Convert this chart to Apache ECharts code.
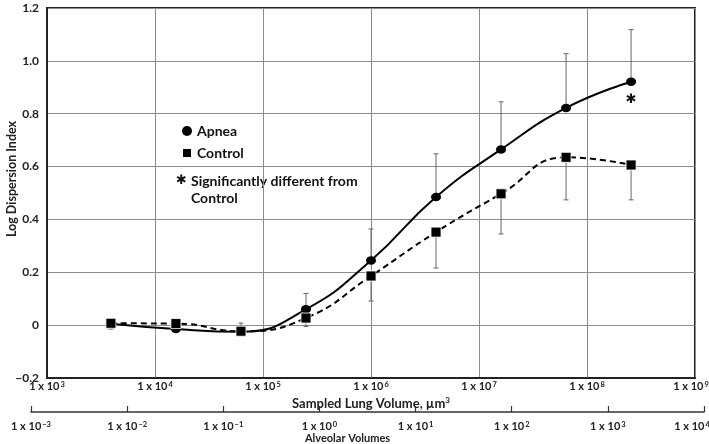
<!DOCTYPE html>
<html><head><meta charset="utf-8">
<script src="https://cdn.jsdelivr.net/npm/echarts@6/dist/echarts.min.js"></script>
<style>html,body{margin:0;padding:0;background:#fff}#c{width:709px;height:444px}</style>
</head><body><div id="c"></div>
<script>
// ---- data ----
const sampledVolumes = [3906, 15625, 62500, 250000, 1000000, 4000000, 16000000, 64000000, 256000000];
const apnea        = [0.005, -0.015, -0.025, 0.06, 0.245, 0.485, 0.665, 0.822, 0.921];
const control      = [0.007, 0.006, -0.023, 0.027, 0.186, 0.352, 0.497, 0.635, 0.606];
const apneaUpper   = [0.015, 0.01, 0.008, 0.12, 0.364, 0.648, 0.845, 1.027, 1.118];
const controlLower = [-0.015, -0.005, -0.03, -0.005, 0.091, 0.216, 0.345, 0.474, 0.474];
const significant  = [false, false, false, false, false, false, false, false, true];
const sampledRange  = [1e3, 1e9];
const alveolarRange = [1e-3, 1e4];
const yRange = [-0.2, 1.2];
const yStep = 0.2;
const seriesNames = ['Apnea', 'Control'];
const noteText = ['Significantly different from', 'Control'];
const yAxisTitle = 'Log Dispersion Index';

const FONT = 'Lato';
function makeRich(endPad) {
  return {
    b: {fontFamily: FONT, fontWeight: 'bold', fontSize: 11, color: '#222'},
    s: {fontFamily: FONT, fontWeight: 'bold', fontSize: 7.5, color: '#222', verticalAlign: 'top', padding: [0, 0, 0, 1]},
    se: {fontFamily: FONT, fontWeight: 'bold', fontSize: 7.5, color: '#222', verticalAlign: 'top', padding: [0, endPad, 0, 1]}
  };
}
function powLabelFor(maxV) {
  return function (v) {
    const e = Math.round(Math.log10(v));
    const tag = Math.abs(Math.log10(v) - Math.log10(maxV)) < 1e-6 ? 'se' : 's';
    return '{b|1 x 10}{' + tag + '|' + (e < 0 ? '\u2212' + (-e) : e) + '}';
  };
}
function errBar() {
  return function (params, api) {
    const x = api.value(0), v = api.value(1), e = api.value(2);
    const p1 = api.coord([x, v]), p2 = api.coord([x, e]);
    const w = 2.5;
    const st = {stroke: '#666', lineWidth: 1};
    return {type: 'group', children: [
      {type: 'line', shape: {x1: p1[0], y1: p1[1], x2: p2[0], y2: p2[1]}, style: st},
      {type: 'line', shape: {x1: p2[0] - w, y1: p2[1], x2: p2[0] + w, y2: p2[1]}, style: st}
    ]};
  };
}
const apneaPts = sampledVolumes.map((x, i) => [x, apnea[i]]);
const controlPts = sampledVolumes.map((x, i) => [x, control[i]]);
const apneaErr = sampledVolumes.map((x, i) => [x, apnea[i], apneaUpper[i]]);
const controlErr = sampledVolumes.map((x, i) => [x, control[i], controlLower[i]]);
const sigMarks = sampledVolumes.map((x, i) => significant[i] ? {coord: [x, apnea[i]]} : null).filter(Boolean);

const chart = echarts.init(document.getElementById('c'), null, {renderer: 'canvas'});
chart.setOption({
  animation: false,
  backgroundColor: '#fff',
  grid: [
    {left: 47, right: 14, top: 8, bottom: 66, show: true, borderColor: '#222', borderWidth: 2, containLabel: false, outerBoundsMode: 'none'},
    {left: 31, right: 5, top: 411, height: 1, show: false, containLabel: false, outerBoundsMode: 'none'}
  ],
  legend: {
    left: 176, top: 119, orient: 'vertical', itemGap: 8, itemWidth: 10, itemHeight: 10,
    textStyle: {fontFamily: FONT, fontWeight: 'bold', fontSize: 14, color: '#111'},
    data: [{name: seriesNames[0], icon: 'circle'}, {name: seriesNames[1], icon: 'rect'}]
  },
  xAxis: [
    {gridIndex: 0, type: 'log', logBase: 10, min: sampledRange[0], max: sampledRange[1],
      axisLine: {show: true, onZero: false, lineStyle: {color: '#222', width: 2}}, axisTick: {show: false},
      splitLine: {show: true, lineStyle: {color: '#8c8c8c', width: 1}},
      axisLabel: {margin: 3, formatter: powLabelFor(sampledRange[1]), rich: makeRich(8)},
      name: 'Sampled Lung Volume, {b2|\u00b5m}{s2|3}', nameLocation: 'middle', nameGap: 14,
      nameTextStyle: {fontFamily: FONT, fontWeight: 'bold', fontSize: 13, color: '#222',
        rich: {b2: {fontFamily: FONT, fontWeight: 'bold', fontSize: 13, color: '#222'},
               s2: {fontFamily: FONT, fontWeight: 'bold', fontSize: 8, color: '#222', verticalAlign: 'top'}}}},
    {gridIndex: 1, type: 'log', logBase: 10, min: alveolarRange[0], max: alveolarRange[1], position: 'bottom',
      axisLine: {show: true, onZero: false, lineStyle: {color: '#333', width: 1.5}},
      axisTick: {show: true, inside: true, length: 6, lineStyle: {color: '#333', width: 1.2}},
      splitLine: {show: false},
      axisLabel: {margin: 9, formatter: powLabelFor(alveolarRange[1]), rich: makeRich(24)},
      name: 'Alveolar Volumes', nameLocation: 'middle', nameGap: 21,
      nameTextStyle: {fontFamily: FONT, fontWeight: 'bold', fontSize: 11, color: '#222', padding: [0, 40, 0, 0]}}
  ],
  yAxis: [
    {gridIndex: 0, type: 'value', min: yRange[0], max: yRange[1], interval: yStep,
      axisLine: {show: true, onZero: false, lineStyle: {color: '#222', width: 2}}, axisTick: {show: false},
      splitLine: {show: true, lineStyle: {color: '#8c8c8c', width: 1}},
      axisLabel: {margin: 8, fontFamily: FONT, fontWeight: 'bold', fontSize: 12, color: '#222',
        formatter: v => Math.abs(v) < 1e-9 ? '0' : (v < 0 ? '\u2212' + (-v).toFixed(1) : v.toFixed(1))}},
    {gridIndex: 1, type: 'value', show: false, min: 0, max: 1}
  ],
  series: [
    {type: 'custom', name: 'apneaErr', xAxisIndex: 0, yAxisIndex: 0, renderItem: errBar(), data: apneaErr, z: 1,
      encode: {x: 0, y: [1, 2]}, silent: true},
    {type: 'custom', name: 'controlErr', xAxisIndex: 0, yAxisIndex: 0, renderItem: errBar(), data: controlErr, z: 1,
      encode: {x: 0, y: [1, 2]}, silent: true},
    {type: 'line', name: seriesNames[0], xAxisIndex: 0, yAxisIndex: 0, data: apneaPts, smooth: 0.5,
      symbol: 'circle', symbolSize: [10, 8.5], z: 3,
      lineStyle: {color: '#000', width: 2}, itemStyle: {color: '#000'},
      markPoint: {symbol: 'circle', symbolSize: 1, itemStyle: {color: 'rgba(0,0,0,0)'},
        label: {show: true, position: 'inside', offset: [0, 18], formatter: '\u2731', fontFamily: 'DejaVu Sans', fontSize: 13, color: '#111'},
        data: sigMarks}},
    {type: 'line', name: seriesNames[1], xAxisIndex: 0, yAxisIndex: 0, data: controlPts, smooth: 0.5,
      symbol: 'rect', symbolSize: 10, z: 4,
      lineStyle: {color: '#000', width: 2, type: [6, 4]}, itemStyle: {color: '#000', borderColor: '#fff', borderWidth: 0.8}}
  ],
  graphic: [
    {type: 'text', x: 12, y: 179, rotation: Math.PI / 2,
      style: {text: yAxisTitle, fontFamily: FONT, fontWeight: 'bold', fontSize: 12.5, fill: '#222', align: 'center', verticalAlign: 'middle'}},
    {type: 'text', left: 176, top: 174, style: {text: '\u2731', fontFamily: 'DejaVu Sans', fontSize: 13, fill: '#111'}},
    {type: 'text', left: 191, top: 173, style: {text: noteText.join('\n'), fontFamily: FONT, fontWeight: 'bold', fontSize: 14, lineHeight: 17, fill: '#111'}}
  ]
});
</script></body></html>
